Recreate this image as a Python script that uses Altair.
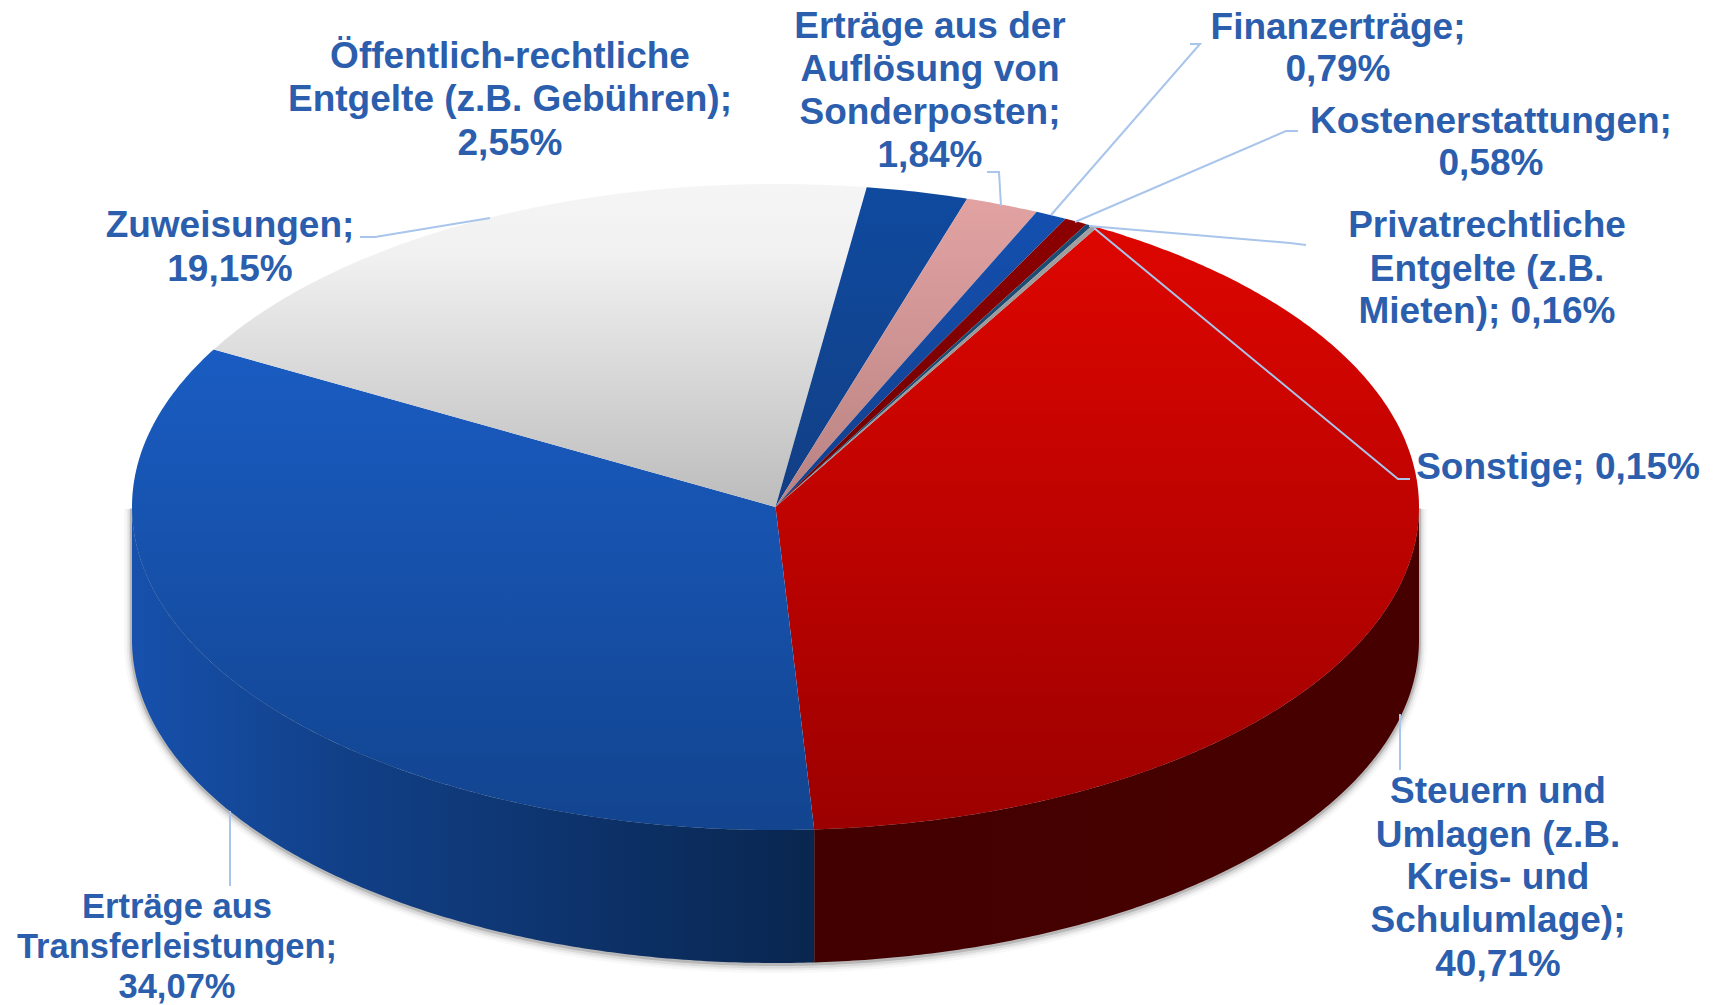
import numpy as np
import altair as alt

CATEGORIES = ["Steuern und Umlagen", "Erträge aus Transferleistungen", "Zuweisungen",
              "Öffentlich-rechtliche Entgelte", "Erträge aus der Auflösung von Sonderposten",
              "Finanzerträge", "Kostenerstattungen", "Privatrechtliche Entgelte", "Sonstige"]
VALUES = [40.71, 34.07, 19.15, 2.55, 1.84, 0.79, 0.58, 0.16, 0.15]
TOP_COLORS = [("#de0600", "#9c0000"), ("#1a5cc2", "#12448f"), ("#f5f5f5", "#bcbcbc"),
              ("#0f4a9f", "#123f85"), ("#e2a2a2", "#b88282"), ("#1450b0", "#123f8c"),
              ("#8c0000", "#700000"), ("#1b4a72", "#1b4a72"), ("#a0a0a0", "#909090")]
LABEL_LINES = [
    ["Steuern und", "Umlagen (z.B.", "Kreis- und", "Schulumlage);", "40,71%"],
    ["Erträge aus", "Transferleistungen;", "34,07%"],
    ["Zuweisungen;", "19,15%"],
    ["Öffentlich-rechtliche", "Entgelte (z.B. Gebühren);", "2,55%"],
    ["Erträge aus der", "Auflösung von", "Sonderposten;", "1,84%"],
    ["Finanzerträge;", "0,79%"],
    ["Kostenerstattungen;", "0,58%"],
    ["Privatrechtliche", "Entgelte (z.B.", "Mieten); 0,16%"],
    ["Sonstige; 0,15%"],
]
# layout, in page pixels
LABEL_X = [1498, 177, 230, 510, 930, 1338, 1491, 1487, 1558]
LABEL_Y = [[792, 836, 878, 921, 965], [908, 948, 988], [226, 270], [57, 100, 144],
           [27, 70, 113, 156], [28, 70], [122, 164], [226, 270, 312], [468]]
LABEL_SIZE = [37, 34.5, 37, 37, 37, 37, 37, 37, 37]
LEADERS = [
    [[1400, 714], [1400, 770]],
    [[230, 811], [230, 886]],
    [[360, 237], [375, 237], [490, 218]],
    [[987, 172], [999, 172], [1001, 206]],
    [[1190, 44], [1200, 44], [1051, 215]],
    [[1298, 131], [1286, 131], [1075, 222]],
    [[1306, 245], [1290, 243], [1089, 226]],
    [[1410, 479], [1398, 479], [1094, 228]],
]

CX, CY, RX, RY, DEPTH = 775.5, 507, 643.5, 323, 133
START = 30.0


def pt(a, dy=0.0):
    r = np.radians(a)
    return [CX + RX * np.sin(r), CY - RY * np.cos(r) + dy]


def arc(a0, a1, dy=0.0):
    n = max(3, int(abs(a1 - a0) * 2))
    return [pt(a, dy) for a in np.linspace(a0, a1, n)]


def feature(coords, kind="Polygon"):
    if kind == "Polygon":
        return {"type": "Feature", "properties": {},
                "geometry": {"type": "Polygon", "coordinates": [coords + [coords[0]]]}}
    return {"type": "Feature", "properties": {},
            "geometry": {"type": "LineString", "coordinates": coords}}


def grad(stops, horizontal=False):
    return alt.Gradient(gradient="linear",
                        stops=[alt.GradientStop(color=c, offset=o) for c, o in stops],
                        x1=0, x2=1 if horizontal else 0, y1=0, y2=0 if horizontal else 1)


edges = np.concatenate([[0], np.cumsum(VALUES)]) * 3.6 + START
layers = []

# soft shadow of the base
base_outline = arc(90, 270, DEPTH) + arc(270, 90, 0)
for width, opacity, off in [(16, 0.04, 2), (11, 0.07, 2), (7, 0.12, 2), (4, 0.25, 1)]:
    shifted = [[x, y + off] for x, y in base_outline]
    layers.append(alt.Chart(alt.Data(values=[feature(shifted)])).mark_geoshape(
        filled=False, stroke="#555555", strokeWidth=width, strokeOpacity=opacity))

# side walls
walls = [
    (90, edges[1], [("#430000", 0), ("#470000", 1)]),
    (edges[1], 270, [("#1751ad", 0), ("#114088", 0.3), ("#09264f", 1)]),
]
for a0, a1, stops in walls:
    poly = arc(a0, a1) + arc(a1, a0, DEPTH)
    layers.append(alt.Chart(alt.Data(values=[feature(poly)])).mark_geoshape(
        fill=grad(stops, horizontal=True), stroke=None))

# top slices
for i, v in enumerate(VALUES):
    poly = [[CX, CY]] + arc(edges[i], edges[i + 1])
    c0, c1 = TOP_COLORS[i]
    stops = [(c0, 0), (c1, 1)]
    if i == 2:
        stops = [(c0, 0), ("#f1f1f1", 0.22), (c1, 1)]
    layers.append(alt.Chart(alt.Data(values=[feature(poly)])).mark_geoshape(
        fill=grad(stops), stroke=None))

# leader lines
leader_feats = [feature([list(p) for p in l], "LineString") for l in LEADERS]
layers.append(alt.Chart(alt.Data(values=leader_feats)).mark_geoshape(
    filled=False, stroke="#a9c5ec", strokeWidth=2))

# labels
for i, lines in enumerate(LABEL_LINES):
    rows = [{"lon": LABEL_X[i], "lat": y, "t": t} for t, y in zip(lines, LABEL_Y[i])]
    layers.append(alt.Chart(alt.Data(values=rows)).mark_text(
        font="Liberation Sans", fontWeight="bold", fontSize=LABEL_SIZE[i], color="#2c5eae",
        align="center", baseline="middle").encode(
        longitude="lon:Q", latitude="lat:Q", text="t:N"))

chart = alt.layer(*layers).properties(
    width=1697, height=997, padding=0,
    autosize=alt.AutoSizeParams(type="none"),
    projection=alt.Projection(type="identity", scale=1, translate=[-8, -8]),
).configure_view(stroke=None).configure(background="white")

chart.save("out.html", embed_options={"renderer": "svg", "actions": False})
